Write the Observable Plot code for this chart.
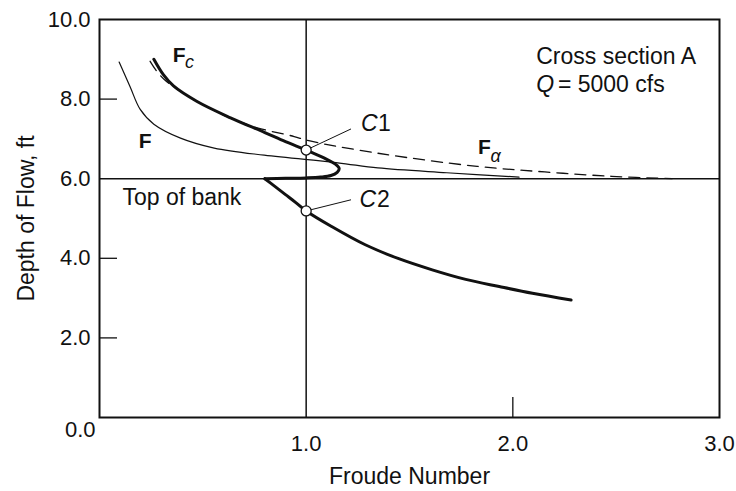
<!DOCTYPE html>
<html>
<head>
<meta charset="utf-8">
<script src="https://cdn.jsdelivr.net/npm/d3@7"></script>
<script src="https://cdn.jsdelivr.net/npm/@observablehq/plot@0.6"></script>
<style>
  html, body { margin: 0; padding: 0; background: #fff; }
  #chart svg { display: block; }
</style>
</head>
<body>
<div id="chart"></div>
<script>
// Froude number against depth of flow, cross section A, Q = 5000 cfs

// Curve F (thin line)
const fFroude = [0.095, 0.148, 0.197, 0.263, 0.392, 0.555, 0.797, 1.153, 1.347, 1.68, 2.03];
const fDepth  = [8.93, 8.31, 7.74, 7.37, 7.02, 6.77, 6.59, 6.40, 6.27, 6.15, 6.04];

// Curve Fc, overbank branch folding back onto the top of bank
const fcUpperFroude = [0.263, 0.308, 0.358, 0.472, 0.634, 0.80, 0.90, 1.0, 1.07, 1.12, 1.15, 1.16, 1.15, 1.12, 1.07, 1.0, 0.90, 0.80];
const fcUpperDepth  = [9.00, 8.62, 8.33, 7.94, 7.53, 7.16, 6.93, 6.72, 6.56, 6.43, 6.33, 6.25, 6.16, 6.08, 6.04, 6.02, 6.01, 6.00];

// Curve Fc, in-channel branch below the top of bank
const fcLowerFroude = [0.80, 0.85, 0.90, 0.95, 1.0, 1.123, 1.286, 1.448, 1.61, 1.772, 1.934, 2.095, 2.282];
const fcLowerDepth  = [6.00, 5.80, 5.60, 5.40, 5.19, 4.80, 4.34, 3.99, 3.71, 3.47, 3.29, 3.12, 2.95];

// Curve F-alpha (dashed)
const faFroude = [0.245, 0.28, 0.32, 0.37, 0.47, 0.62, 0.763, 0.942, 1.007, 1.347, 1.827, 2.155, 2.478, 2.77];
const faDepth  = [8.95, 8.68, 8.46, 8.27, 7.95, 7.55, 7.28, 7.06, 6.96, 6.64, 6.31, 6.17, 6.06, 6.00];

// Critical-flow points where Fc = 1 and their leader-line ends
const critFroude = [1.0, 1.0];
const critDepth  = [6.72, 5.19];
const leaderEndFroude = [1.217, 1.217];
const leaderEndDepth  = [7.25, 5.47];

// Reference lines: Froude number 1 and top of bank
const criticalFroude = [1.0];
const bankDepth = [6.0];

// Axis ticks
const yTickLabels = [2, 4, 6, 8, 10];
const xTickLabels = [1, 2, 3];
const yInnerTicks = [2, 4, 8];
const xInnerTicks = [2];
const originLabel = [0];

// Annotation text, grouped by type style
const plainText   = ["Top of bank", "Cross section A", "= 5000 cfs", "1", "2"];
const plainFroude = [0.111, 2.113, 2.218, 1.348, 1.343];
const plainDepth  = [5.35, 8.87, 8.18, 7.21, 5.28];

const italicText   = ["C", "C", "Q"];
const italicFroude = [1.265, 1.258, 2.113];
const italicDepth  = [7.21, 5.28, 8.18];

const boldText   = ["F", "F", "F"];
const boldFroude = [0.19, 0.354, 1.832];
const boldDepth  = [6.78, 8.92, 6.63];

const subText   = ["c", "α"];
const subFroude = [0.414, 1.892];
const subDepth  = [8.77, 6.41];

const ink = "#111";
const font = "'Liberation Sans', Arial, Helvetica, sans-serif";
const f1 = d3.format(".1f");

const chart = Plot.plot({
  width: 736,
  height: 491,
  marginLeft: 99,
  marginRight: 17,
  marginTop: 19,
  marginBottom: 74,
  x: {domain: [0, 3]},
  y: {domain: [0, 10]},
  style: {fontFamily: font, fontSize: "22px", color: ink, background: "#fff"},
  marks: [
    // reference lines
    Plot.ruleX(criticalFroude, {x: d => d, stroke: ink, strokeWidth: 1.5}),
    Plot.ruleY(bankDepth, {y: d => d, stroke: ink, strokeWidth: 1.5}),

    // inward tick marks
    Plot.axisY({ticks: yInnerTicks, tickSize: 18, dx: 18, text: null, label: null, stroke: ink, strokeWidth: 1.3}),
    Plot.axisX({ticks: xInnerTicks, tickSize: 20, dy: -20, text: null, label: null, stroke: ink, strokeWidth: 1.3}),

    // tick labels
    Plot.axisY({ticks: yTickLabels, tickSize: 0, tickPadding: 9, tickFormat: f1, label: null, fontSize: 22, fill: ink}),
    Plot.axisX({ticks: xTickLabels, tickSize: 0, tickPadding: 18, tickFormat: f1, label: null, fontSize: 22, fill: ink}),
    Plot.text(originLabel, {x: d => d, y: d => d, text: d => f1(d), textAnchor: "end", lineAnchor: "bottom", dx: -4, dy: 19, fontSize: 22, fill: ink}),

    // axis titles
    Plot.text(["Depth of Flow, ft"], {frameAnchor: "left", text: d => d, rotate: -90, dx: -73, textAnchor: "middle", lineAnchor: "middle", fontSize: 23, fill: ink}),
    Plot.text(["Froude Number"], {frameAnchor: "bottom", text: d => d, dy: 66, textAnchor: "middle", lineAnchor: "bottom", fontSize: 23, fill: ink}),

    // curves
    Plot.line(fFroude, {x: fFroude, y: fDepth, curve: "catmull-rom", stroke: ink, strokeWidth: 1.2}),
    Plot.line(faFroude, {x: faFroude, y: faDepth, curve: "catmull-rom", stroke: ink, strokeWidth: 1.3, strokeDasharray: "11,7"}),
    Plot.line(fcUpperFroude, {x: fcUpperFroude, y: fcUpperDepth, curve: "catmull-rom", stroke: ink, strokeWidth: 3}),
    Plot.line(fcLowerFroude, {x: fcLowerFroude, y: fcLowerDepth, curve: "catmull-rom", stroke: ink, strokeWidth: 3}),

    // critical points with leaders
    Plot.link(critFroude, {x1: critFroude, y1: critDepth, x2: leaderEndFroude, y2: leaderEndDepth, stroke: ink, strokeWidth: 1}),
    Plot.dot(critFroude, {x: critFroude, y: critDepth, r: 5, fill: "#fff", stroke: ink, strokeWidth: 1.3}),

    // annotations
    Plot.text(plainText, {x: plainFroude, y: plainDepth, text: plainText, textAnchor: "start", lineAnchor: "bottom", fontSize: 23, fill: ink}),
    Plot.text(italicText, {x: italicFroude, y: italicDepth, text: italicText, textAnchor: "start", lineAnchor: "bottom", fontSize: 23, fontStyle: "italic", fill: ink}),
    Plot.text(boldText, {x: boldFroude, y: boldDepth, text: boldText, textAnchor: "start", lineAnchor: "bottom", fontSize: 21, fontWeight: "bold", fill: ink}),
    Plot.text(subText, {x: subFroude, y: subDepth, text: subText, textAnchor: "start", lineAnchor: "bottom", fontSize: 18, fontStyle: "italic", fill: ink}),

    Plot.frame({stroke: ink, strokeWidth: 2})
  ]
});

document.getElementById("chart").append(chart);
</script>
</body>
</html>
